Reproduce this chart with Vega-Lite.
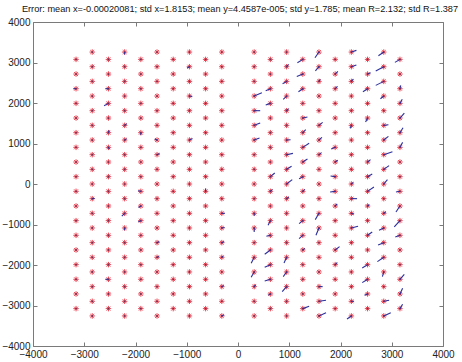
{
"$schema": "https://vega.github.io/schema/vega-lite/v6.json",
"width": 410, "height": 324,
"autosize": {"type": "none"},
"padding": {"left": 33, "top": 22, "right": 19, "bottom": 16},
"background": "white",
"title": {"text": "Error: mean x=-0.00020081; std x=1.8153; mean y=4.4587e-005; std y=1.785; mean R=2.132; std R=1.387", "font": "Liberation Sans", "fontSize": 9.2, "fontWeight": "normal", "color": "#111", "anchor": "middle", "offset": 3, "dx": 2},
"config": {
  "view": {"stroke": null},
  "axis": {"grid": false, "domainColor": "#7a7a7a", "tickColor": "#7a7a7a", "labelColor": "#222", "labelFont": "Liberation Sans", "labelFontSize": 10, "tickSize": -4, "domainWidth": 1, "tickWidth": 1, "title": null, "format": "d"}
},
"datasets": {
"pts": [
{"x":-3160,"y":-3077},{"x":-3160,"y":-2715},{"x":-3160,"y":-2353},{"x":-3160,"y":-1991},{"x":-3160,"y":-1629},{"x":-3160,"y":-1267},{"x":-3160,"y":-905},{"x":-3160,"y":-543},{"x":-3160,"y":-181},{"x":-3160,"y":181},{"x":-3160,"y":543},{"x":-3160,"y":905},{"x":-3160,"y":1267},{"x":-3160,"y":1629},{"x":-3160,"y":1991},{"x":-3160,"y":2353},{"x":-3160,"y":2715},{"x":-3160,"y":3077},
{"x":-2844,"y":-3258},{"x":-2844,"y":-2896},{"x":-2844,"y":-2534},{"x":-2844,"y":-2172},{"x":-2844,"y":-1810},{"x":-2844,"y":-1448},{"x":-2844,"y":-1086},{"x":-2844,"y":-724},{"x":-2844,"y":-362},{"x":-2844,"y":0},{"x":-2844,"y":362},{"x":-2844,"y":724},{"x":-2844,"y":1086},{"x":-2844,"y":1448},{"x":-2844,"y":1810},{"x":-2844,"y":2172},{"x":-2844,"y":2534},{"x":-2844,"y":2896},{"x":-2844,"y":3258},
{"x":-2528,"y":-3077},{"x":-2528,"y":-2715},{"x":-2528,"y":-2353},{"x":-2528,"y":-1991},{"x":-2528,"y":-1629},{"x":-2528,"y":-1267},{"x":-2528,"y":-905},{"x":-2528,"y":-543},{"x":-2528,"y":-181},{"x":-2528,"y":181},{"x":-2528,"y":543},{"x":-2528,"y":905},{"x":-2528,"y":1267},{"x":-2528,"y":1629},{"x":-2528,"y":1991},{"x":-2528,"y":2353},{"x":-2528,"y":2715},{"x":-2528,"y":3077},
{"x":-2212,"y":-3258},{"x":-2212,"y":-2896},{"x":-2212,"y":-2534},{"x":-2212,"y":-2172},{"x":-2212,"y":-1810},{"x":-2212,"y":-1448},{"x":-2212,"y":-1086},{"x":-2212,"y":-724},{"x":-2212,"y":-362},{"x":-2212,"y":0},{"x":-2212,"y":362},{"x":-2212,"y":724},{"x":-2212,"y":1086},{"x":-2212,"y":1448},{"x":-2212,"y":1810},{"x":-2212,"y":2172},{"x":-2212,"y":2534},{"x":-2212,"y":2896},{"x":-2212,"y":3258},
{"x":-1896,"y":-3077},{"x":-1896,"y":-2715},{"x":-1896,"y":-2353},{"x":-1896,"y":-1991},{"x":-1896,"y":-1629},{"x":-1896,"y":-1267},{"x":-1896,"y":-905},{"x":-1896,"y":-543},{"x":-1896,"y":-181},{"x":-1896,"y":181},{"x":-1896,"y":543},{"x":-1896,"y":905},{"x":-1896,"y":1267},{"x":-1896,"y":1629},{"x":-1896,"y":1991},{"x":-1896,"y":2353},{"x":-1896,"y":2715},{"x":-1896,"y":3077},
{"x":-1580,"y":-3258},{"x":-1580,"y":-2896},{"x":-1580,"y":-2534},{"x":-1580,"y":-2172},{"x":-1580,"y":-1810},{"x":-1580,"y":-1448},{"x":-1580,"y":-1086},{"x":-1580,"y":-724},{"x":-1580,"y":-362},{"x":-1580,"y":0},{"x":-1580,"y":362},{"x":-1580,"y":724},{"x":-1580,"y":1086},{"x":-1580,"y":1448},{"x":-1580,"y":1810},{"x":-1580,"y":2172},{"x":-1580,"y":2534},{"x":-1580,"y":2896},{"x":-1580,"y":3258},
{"x":-1264,"y":-3077},{"x":-1264,"y":-2715},{"x":-1264,"y":-2353},{"x":-1264,"y":-1991},{"x":-1264,"y":-1629},{"x":-1264,"y":-1267},{"x":-1264,"y":-905},{"x":-1264,"y":-543},{"x":-1264,"y":-181},{"x":-1264,"y":181},{"x":-1264,"y":543},{"x":-1264,"y":905},{"x":-1264,"y":1267},{"x":-1264,"y":1629},{"x":-1264,"y":1991},{"x":-1264,"y":2353},{"x":-1264,"y":2715},{"x":-1264,"y":3077},
{"x":-948,"y":-3258},{"x":-948,"y":-2896},{"x":-948,"y":-2534},{"x":-948,"y":-2172},{"x":-948,"y":-1810},{"x":-948,"y":-1448},{"x":-948,"y":-1086},{"x":-948,"y":-724},{"x":-948,"y":-362},{"x":-948,"y":0},{"x":-948,"y":362},{"x":-948,"y":724},{"x":-948,"y":1086},{"x":-948,"y":1448},{"x":-948,"y":1810},{"x":-948,"y":2172},{"x":-948,"y":2534},{"x":-948,"y":2896},{"x":-948,"y":3258},
{"x":-632,"y":-3077},{"x":-632,"y":-2715},{"x":-632,"y":-2353},{"x":-632,"y":-1991},{"x":-632,"y":-1629},{"x":-632,"y":-1267},{"x":-632,"y":-905},{"x":-632,"y":-543},{"x":-632,"y":-181},{"x":-632,"y":181},{"x":-632,"y":543},{"x":-632,"y":905},{"x":-632,"y":1267},{"x":-632,"y":1629},{"x":-632,"y":1991},{"x":-632,"y":2353},{"x":-632,"y":2715},{"x":-632,"y":3077},
{"x":-316,"y":-3258},{"x":-316,"y":-2896},{"x":-316,"y":-2534},{"x":-316,"y":-2172},{"x":-316,"y":-1810},{"x":-316,"y":-1448},{"x":-316,"y":-1086},{"x":-316,"y":-724},{"x":-316,"y":-362},{"x":-316,"y":0},{"x":-316,"y":362},{"x":-316,"y":724},{"x":-316,"y":1086},{"x":-316,"y":1448},{"x":-316,"y":1810},{"x":-316,"y":2172},{"x":-316,"y":2534},{"x":-316,"y":2896},{"x":-316,"y":3258},
{"x":316,"y":-3258},{"x":316,"y":-2896},{"x":316,"y":-2534},{"x":316,"y":-2172},{"x":316,"y":-1810},{"x":316,"y":-1448},{"x":316,"y":-1086},{"x":316,"y":-724},{"x":316,"y":-362},{"x":316,"y":0},{"x":316,"y":362},{"x":316,"y":724},{"x":316,"y":1086},{"x":316,"y":1448},{"x":316,"y":1810},{"x":316,"y":2172},{"x":316,"y":2534},{"x":316,"y":2896},{"x":316,"y":3258},
{"x":632,"y":-3077},{"x":632,"y":-2715},{"x":632,"y":-2353},{"x":632,"y":-1991},{"x":632,"y":-1629},{"x":632,"y":-1267},{"x":632,"y":-905},{"x":632,"y":-543},{"x":632,"y":-181},{"x":632,"y":181},{"x":632,"y":543},{"x":632,"y":905},{"x":632,"y":1267},{"x":632,"y":1629},{"x":632,"y":1991},{"x":632,"y":2353},{"x":632,"y":2715},{"x":632,"y":3077},
{"x":948,"y":-3258},{"x":948,"y":-2896},{"x":948,"y":-2534},{"x":948,"y":-2172},{"x":948,"y":-1810},{"x":948,"y":-1448},{"x":948,"y":-1086},{"x":948,"y":-724},{"x":948,"y":-362},{"x":948,"y":0},{"x":948,"y":362},{"x":948,"y":724},{"x":948,"y":1086},{"x":948,"y":1448},{"x":948,"y":1810},{"x":948,"y":2172},{"x":948,"y":2534},{"x":948,"y":2896},{"x":948,"y":3258},
{"x":1264,"y":-3077},{"x":1264,"y":-2715},{"x":1264,"y":-2353},{"x":1264,"y":-1991},{"x":1264,"y":-1629},{"x":1264,"y":-1267},{"x":1264,"y":-905},{"x":1264,"y":-543},{"x":1264,"y":-181},{"x":1264,"y":181},{"x":1264,"y":543},{"x":1264,"y":905},{"x":1264,"y":1267},{"x":1264,"y":1629},{"x":1264,"y":1991},{"x":1264,"y":2353},{"x":1264,"y":2715},{"x":1264,"y":3077},
{"x":1580,"y":-3258},{"x":1580,"y":-2896},{"x":1580,"y":-2534},{"x":1580,"y":-2172},{"x":1580,"y":-1810},{"x":1580,"y":-1448},{"x":1580,"y":-1086},{"x":1580,"y":-724},{"x":1580,"y":-362},{"x":1580,"y":0},{"x":1580,"y":362},{"x":1580,"y":724},{"x":1580,"y":1086},{"x":1580,"y":1448},{"x":1580,"y":1810},{"x":1580,"y":2172},{"x":1580,"y":2534},{"x":1580,"y":2896},{"x":1580,"y":3258},
{"x":1896,"y":-3077},{"x":1896,"y":-2715},{"x":1896,"y":-2353},{"x":1896,"y":-1991},{"x":1896,"y":-1629},{"x":1896,"y":-1267},{"x":1896,"y":-905},{"x":1896,"y":-543},{"x":1896,"y":-181},{"x":1896,"y":181},{"x":1896,"y":543},{"x":1896,"y":905},{"x":1896,"y":1267},{"x":1896,"y":1629},{"x":1896,"y":1991},{"x":1896,"y":2353},{"x":1896,"y":2715},{"x":1896,"y":3077},
{"x":2212,"y":-3258},{"x":2212,"y":-2896},{"x":2212,"y":-2534},{"x":2212,"y":-2172},{"x":2212,"y":-1810},{"x":2212,"y":-1448},{"x":2212,"y":-1086},{"x":2212,"y":-724},{"x":2212,"y":-362},{"x":2212,"y":0},{"x":2212,"y":362},{"x":2212,"y":724},{"x":2212,"y":1086},{"x":2212,"y":1448},{"x":2212,"y":1810},{"x":2212,"y":2172},{"x":2212,"y":2534},{"x":2212,"y":2896},{"x":2212,"y":3258},
{"x":2528,"y":-3077},{"x":2528,"y":-2715},{"x":2528,"y":-2353},{"x":2528,"y":-1991},{"x":2528,"y":-1629},{"x":2528,"y":-1267},{"x":2528,"y":-905},{"x":2528,"y":-543},{"x":2528,"y":-181},{"x":2528,"y":181},{"x":2528,"y":543},{"x":2528,"y":905},{"x":2528,"y":1267},{"x":2528,"y":1629},{"x":2528,"y":1991},{"x":2528,"y":2353},{"x":2528,"y":2715},{"x":2528,"y":3077},
{"x":2844,"y":-3258},{"x":2844,"y":-2896},{"x":2844,"y":-2534},{"x":2844,"y":-2172},{"x":2844,"y":-1810},{"x":2844,"y":-1448},{"x":2844,"y":-1086},{"x":2844,"y":-724},{"x":2844,"y":-362},{"x":2844,"y":0},{"x":2844,"y":362},{"x":2844,"y":724},{"x":2844,"y":1086},{"x":2844,"y":1448},{"x":2844,"y":1810},{"x":2844,"y":2172},{"x":2844,"y":2534},{"x":2844,"y":2896},{"x":2844,"y":3258},
{"x":3160,"y":-3077},{"x":3160,"y":-2715},{"x":3160,"y":-2353},{"x":3160,"y":-1991},{"x":3160,"y":-1629},{"x":3160,"y":-1267},{"x":3160,"y":-905},{"x":3160,"y":-543},{"x":3160,"y":-181},{"x":3160,"y":181},{"x":3160,"y":543},{"x":3160,"y":905},{"x":3160,"y":1267},{"x":3160,"y":1629},{"x":3160,"y":1991},{"x":3160,"y":2353},{"x":3160,"y":2715},{"x":3160,"y":3077}
],
"vec": [
{"x":1580,"y":3258,"x2":1502,"y2":3118},{"x":2212,"y":3258,"x2":2310,"y2":3299},{"x":2844,"y":3258,"x2":2740,"y2":3167},{"x":1264,"y":3077,"x2":1159,"y2":2992},{"x":3160,"y":3077,"x2":3062,"y2":3003},{"x":2212,"y":2896,"x2":2310,"y2":2937},{"x":2844,"y":2896,"x2":2688,"y2":2789},{"x":1264,"y":2715,"x2":1147,"y2":2655},{"x":948,"y":2896,"x2":987,"y2":2954},{"x":1896,"y":2715,"x2":1949,"y2":2781},{"x":948,"y":2534,"x2":870,"y2":2476},{"x":2212,"y":2534,"x2":2251,"y2":2592},{"x":2844,"y":2534,"x2":2688,"y2":2435},{"x":632,"y":2353,"x2":541,"y2":2303},{"x":316,"y":2172,"x2":466,"y2":2254},{"x":2528,"y":2353,"x2":2437,"y2":2279},{"x":3160,"y":2353,"x2":3175,"y2":2435},{"x":1896,"y":2353,"x2":1941,"y2":2408},{"x":632,"y":1991,"x2":541,"y2":1950},{"x":948,"y":2172,"x2":883,"y2":2090},{"x":1264,"y":2353,"x2":1179,"y2":2279},{"x":316,"y":1810,"x2":433,"y2":1810},{"x":316,"y":1448,"x2":433,"y2":1506},{"x":316,"y":1086,"x2":420,"y2":1135},{"x":632,"y":181,"x2":717,"y2":272},{"x":1264,"y":1629,"x2":1355,"y2":1654},{"x":1264,"y":1267,"x2":1322,"y2":1341},{"x":1264,"y":543,"x2":1355,"y2":617},{"x":1580,"y":2896,"x2":1510,"y2":2796},{"x":948,"y":1810,"x2":988,"y2":1860},{"x":2528,"y":1629,"x2":2489,"y2":1530},{"x":3160,"y":1629,"x2":3245,"y2":1752},{"x":1580,"y":1448,"x2":1652,"y2":1522},{"x":2212,"y":1448,"x2":2192,"y2":1374},{"x":2844,"y":1448,"x2":2935,"y2":1464},{"x":3160,"y":1267,"x2":3220,"y2":1387},{"x":948,"y":1086,"x2":1026,"y2":1094},{"x":1580,"y":1086,"x2":1638,"y2":1152},{"x":2844,"y":1086,"x2":2935,"y2":1177},{"x":1264,"y":905,"x2":1388,"y2":1004},{"x":1896,"y":905,"x2":1818,"y2":864},{"x":3160,"y":905,"x2":3212,"y2":1028},{"x":948,"y":724,"x2":1072,"y2":757},{"x":1580,"y":724,"x2":1630,"y2":774},{"x":2844,"y":724,"x2":3013,"y2":798},{"x":1896,"y":543,"x2":1946,"y2":588},{"x":2528,"y":543,"x2":2586,"y2":601},{"x":948,"y":362,"x2":1046,"y2":436},{"x":2844,"y":362,"x2":2948,"y2":453},{"x":1264,"y":181,"x2":1192,"y2":131},{"x":2528,"y":181,"x2":2619,"y2":247},{"x":1896,"y":181,"x2":1806,"y2":196},{"x":948,"y":0,"x2":1059,"y2":107},{"x":2212,"y":0,"x2":2252,"y2":40},{"x":2844,"y":0,"x2":2916,"y2":107},{"x":632,"y":-181,"x2":672,"y2":-131},{"x":1264,"y":-181,"x2":1304,"y2":-131},{"x":1896,"y":-181,"x2":1798,"y2":-197},{"x":2528,"y":-181,"x2":2652,"y2":-74},{"x":3160,"y":-181,"x2":3082,"y2":-197},{"x":948,"y":-362,"x2":993,"y2":-322},{"x":2212,"y":-362,"x2":2323,"y2":-362},{"x":1896,"y":-543,"x2":1936,"y2":-493},{"x":2528,"y":-543,"x2":2558,"y2":-513},{"x":3160,"y":-543,"x2":3082,"y2":-691},{"x":316,"y":-724,"x2":316,"y2":-784},{"x":1580,"y":-724,"x2":1508,"y2":-880},{"x":2212,"y":-724,"x2":2264,"y2":-749},{"x":2844,"y":-724,"x2":2884,"y2":-684},{"x":632,"y":-905,"x2":586,"y2":-1020},{"x":1264,"y":-905,"x2":1192,"y2":-979},{"x":3160,"y":-905,"x2":3049,"y2":-1061},{"x":316,"y":-1086,"x2":316,"y2":-1185},{"x":1580,"y":-1086,"x2":1521,"y2":-1267},{"x":2212,"y":-1086,"x2":2342,"y2":-1045},{"x":2844,"y":-1086,"x2":2753,"y2":-1144},{"x":632,"y":-1267,"x2":554,"y2":-1292},{"x":1264,"y":-1267,"x2":1192,"y2":-1349},{"x":2528,"y":-1267,"x2":2619,"y2":-1185},{"x":3160,"y":-1267,"x2":3069,"y2":-1308},{"x":2844,"y":-1448,"x2":2734,"y2":-1508},{"x":632,"y":-1629,"x2":521,"y2":-1736},{"x":1264,"y":-1629,"x2":1304,"y2":-1589},{"x":1896,"y":-1629,"x2":1981,"y2":-1547},{"x":316,"y":-1810,"x2":257,"y2":-1958},{"x":948,"y":-1810,"x2":898,"y2":-1950},{"x":2844,"y":-1810,"x2":2720,"y2":-1917},{"x":632,"y":-1991,"x2":521,"y2":-2057},{"x":1896,"y":-1991,"x2":1936,"y2":-1941},{"x":2528,"y":-1991,"x2":2424,"y2":-2073},{"x":316,"y":-2172,"x2":257,"y2":-2304},{"x":948,"y":-2172,"x2":883,"y2":-2287},{"x":2844,"y":-2172,"x2":2818,"y2":-2287},{"x":632,"y":-2353,"x2":521,"y2":-2394},{"x":2528,"y":-2353,"x2":2424,"y2":-2435},{"x":3160,"y":-2353,"x2":3245,"y2":-2230},{"x":316,"y":-2534,"x2":346,"y2":-2484},{"x":948,"y":-2534,"x2":863,"y2":-2657},{"x":1580,"y":-2534,"x2":1652,"y2":-2534},{"x":3160,"y":-2715,"x2":3212,"y2":-2575},{"x":632,"y":-2715,"x2":592,"y2":-2745},{"x":2528,"y":-2715,"x2":2468,"y2":-2745},{"x":1580,"y":-2896,"x2":1717,"y2":-2871},{"x":2212,"y":-2896,"x2":2262,"y2":-2896},{"x":2844,"y":-2896,"x2":2948,"y2":-2871},{"x":1264,"y":-3077,"x2":1388,"y2":-3019},{"x":3160,"y":-3077,"x2":3212,"y2":-2970},{"x":1580,"y":-3258,"x2":1717,"y2":-3176},{"x":2212,"y":-3258,"x2":2127,"y2":-3332},{"x":2844,"y":-3258,"x2":2981,"y2":-3176},{"x":2528,"y":2715,"x2":2588,"y2":2745},{"x":2844,"y":2172,"x2":2779,"y2":2106},{"x":3160,"y":1991,"x2":3205,"y2":2091},{"x":1580,"y":2534,"x2":1605,"y2":2584},
{"x":-2212,"y":3258,"x2":-2212,"y2":3198},{"x":-948,"y":2896,"x2":-993,"y2":2866},{"x":-3160,"y":2353,"x2":-3210,"y2":2353},{"x":-2528,"y":2353,"x2":-2588,"y2":2353},{"x":-2528,"y":1991,"x2":-2613,"y2":1933},{"x":-948,"y":2172,"x2":-893,"y2":2162},{"x":-2528,"y":1267,"x2":-2513,"y2":1327},{"x":-2212,"y":1448,"x2":-2172,"y2":1488},{"x":-1896,"y":1267,"x2":-1896,"y2":1207},{"x":-2528,"y":905,"x2":-2508,"y2":855},{"x":-2212,"y":1086,"x2":-2172,"y2":1121},{"x":-1580,"y":1086,"x2":-1625,"y2":1111},{"x":-1580,"y":724,"x2":-1530,"y2":754},{"x":-948,"y":1086,"x2":-888,"y2":1121},{"x":-2212,"y":-724,"x2":-2267,"y2":-794},{"x":-1896,"y":-181,"x2":-1951,"y2":-166},{"x":-1896,"y":-543,"x2":-1941,"y2":-578},{"x":-1896,"y":-905,"x2":-1946,"y2":-935},{"x":-2212,"y":-1086,"x2":-2212,"y2":-1141},{"x":-632,"y":-181,"x2":-632,"y2":-111},{"x":-316,"y":-724,"x2":-256,"y2":-724},{"x":-316,"y":-1086,"x2":-261,"y2":-1076},{"x":-1580,"y":-1448,"x2":-1535,"y2":-1418},{"x":-1580,"y":-1810,"x2":-1540,"y2":-1790},{"x":-316,"y":-1448,"x2":-271,"y2":-1418},{"x":-2528,"y":-2353,"x2":-2588,"y2":-2353},{"x":-2844,"y":-362,"x2":-2799,"y2":-357},{"x":-316,"y":-3258,"x2":-271,"y2":-3228},{"x":-316,"y":-2534,"x2":-276,"y2":-2504},{"x":-316,"y":-1810,"x2":-286,"y2":-1780}
]
},
"layer": [
  {
    "data": {"name": "pts"},
    "mark": {"type": "point", "shape": "M-1,0L1,0M0,-1L0,1M-0.7,-0.7L0.7,0.7M-0.7,0.7L0.7,-0.7", "size": 30, "filled": false, "stroke": "#ec3040", "strokeWidth": 1, "opacity": 0.9},
    "encoding": {
      "x": {"field": "x", "type": "quantitative", "scale": {"domain": [-4000, 4000], "nice": false, "zero": false}, "axis": {"orient": "bottom", "values": [-4000,-3000,-2000,-1000,0,1000,2000,3000,4000], "labelFlush": false, "labelPadding": 7}},
      "y": {"field": "y", "type": "quantitative", "scale": {"domain": [-4000, 4000], "nice": false, "zero": false}, "axis": {"orient": "left", "values": [-4000,-3000,-2000,-1000,0,1000,2000,3000,4000], "labelPadding": 7}}
    }
  },
  {
    "data": {"name": "pts"},
    "mark": {"type": "circle", "size": 3, "color": "#4a2a55", "opacity": 0.8},
    "encoding": {
      "x": {"field": "x", "type": "quantitative", "axis": {"orient": "top", "labels": false, "values": [-4000,-3000,-2000,-1000,0,1000,2000,3000,4000]}},
      "y": {"field": "y", "type": "quantitative", "axis": {"orient": "right", "labels": false, "values": [-4000,-3000,-2000,-1000,0,1000,2000,3000,4000]}}
    }
  },
  {
    "data": {"name": "vec"},
    "mark": {"type": "rule", "color": "#2a2f9c", "strokeWidth": 1.1},
    "encoding": {
      "x": {"field": "x", "type": "quantitative", "axis": null},
      "y": {"field": "y", "type": "quantitative", "axis": null},
      "x2": {"field": "x2"},
      "y2": {"field": "y2"}
    }
  }
]
}
